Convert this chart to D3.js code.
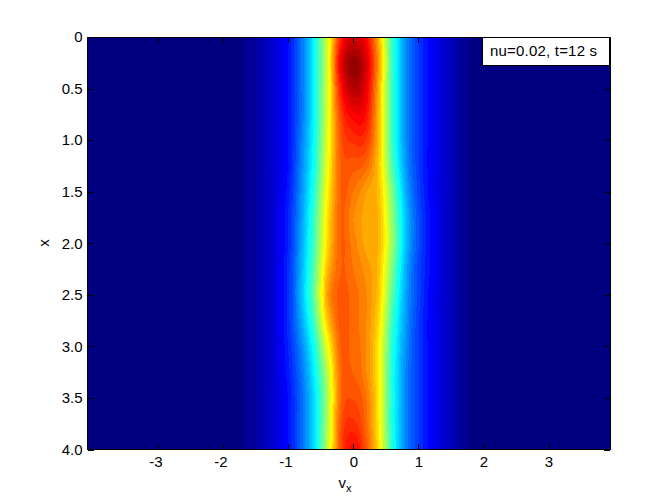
<!DOCTYPE html>
<html><head><meta charset="utf-8">
<script src="https://cdn.jsdelivr.net/npm/d3@7"></script>
<style>html,body{margin:0;padding:0;background:#fff}svg{display:block}
text{font-family:"Liberation Sans",Arial,sans-serif;fill:#000}</style></head>
<body><svg id="c" width="672" height="504"></svg>
<script>
const vGrid = [-2,-1.8,-1.6,-1.4,-1.2,-1,-.8,-.6,-.4,-.2,0,.2,.4,.6,.8,1,1.2,1.4,1.6,1.8,2];
const xGrid = [0,.25,.5,.75,1,1.25,1.5,1.75,2,2.25,2.5,2.75,3,3.25,3.5,3.75,4];
const density = [
[.005,.012,.03,.06,.10,.15,.25,.39,.60,.85,.93,.88,.70,.44,.28,.19,.13,.09,.05,.02,.005],
[.005,.012,.03,.06,.10,.15,.25,.39,.60,.90,.99,.92,.72,.44,.28,.19,.13,.09,.05,.02,.005],
[.005,.012,.03,.06,.10,.15,.25,.39,.60,.86,.96,.90,.70,.44,.28,.19,.13,.09,.05,.02,.005],
[.005,.012,.03,.06,.10,.15,.25,.39,.60,.82,.89,.87,.69,.44,.28,.19,.13,.09,.05,.02,.005],
[.005,.012,.03,.06,.10,.15,.26,.40,.61,.80,.84,.83,.69,.44,.28,.19,.13,.09,.05,.02,.005],
[.005,.012,.03,.06,.10,.15,.27,.41,.62,.79,.80,.78,.68,.46,.29,.19,.13,.09,.05,.02,.005],
[.005,.012,.03,.06,.10,.16,.28,.43,.64,.79,.77,.73,.69,.50,.31,.20,.13,.09,.05,.02,.005],
[.005,.012,.03,.06,.10,.17,.29,.45,.66,.79,.75,.72,.70,.52,.33,.21,.14,.09,.05,.02,.005],
[.005,.012,.03,.06,.10,.17,.30,.46,.67,.79,.76,.72,.70,.53,.33,.21,.14,.09,.05,.02,.005],
[.005,.012,.03,.06,.10,.18,.31,.48,.70,.79,.77,.74,.69,.50,.31,.20,.14,.09,.05,.02,.005],
[.005,.012,.03,.06,.10,.18,.32,.49,.73,.80,.78,.75,.68,.47,.30,.20,.13,.09,.05,.02,.005],
[.005,.012,.03,.06,.10,.18,.30,.46,.69,.80,.78,.75,.66,.44,.29,.19,.13,.09,.05,.02,.005],
[.005,.012,.03,.06,.10,.17,.27,.41,.62,.79,.78,.75,.64,.42,.28,.19,.13,.09,.05,.02,.005],
[.005,.012,.03,.06,.10,.16,.25,.38,.57,.78,.79,.75,.64,.41,.27,.19,.13,.09,.05,.02,.005],
[.005,.012,.03,.06,.10,.15,.24,.36,.55,.78,.81,.77,.64,.41,.27,.19,.13,.09,.05,.02,.005],
[.005,.012,.03,.06,.10,.15,.24,.36,.56,.80,.84,.78,.64,.41,.27,.19,.13,.09,.05,.02,.005],
[.005,.012,.03,.06,.10,.15,.24,.36,.57,.81,.88,.80,.65,.42,.27,.19,.13,.09,.05,.02,.005]
];
const xTicks = [-3,-2,-1,0,1,2,3];
const yTicks = [0,.5,1,1.5,2,2.5,3,3.5,4];
const xLabelMain = "v", xLabelSub = "x", yLabel = "x", note = "nu=0.02, t=12 s";
const levels = 48;

const svg = d3.select("#c");
const L=87.5,R=610,T=37,B=449.5;
const sx = d3.scaleLinear().domain([-4.092,3.946]).range([L,R]);
const sy = d3.scaleLinear().domain([0,4]).range([T,B]);

const jet = d3.scaleLinear()
  .domain([0,.125,.375,.625,.875,1])
  .range(["#000080","#0000ff","#00ffff","#ffff00","#ff0000","#800000"])
  .clamp(true);

function cr(a,b,c,d,t){return .5*((2*b)+(-a+c)*t+(2*a-5*b+4*c-d)*t*t+(-a+3*b-3*c+d)*t*t*t);}
const idx=(arr,v)=>{const s=(arr[arr.length-1]-arr[0])/(arr.length-1);const p=(v-arr[0])/s;
  const i=Math.max(0,Math.min(arr.length-2,Math.floor(p)));return [i,p-i];};
function sample(x,v){
  if(v<=vGrid[0]||v>=vGrid[vGrid.length-1])return 0;
  const [j,tj]=idx(xGrid,x),[i,ti]=idx(vGrid,v);
  const row=r=>{const m=density[Math.max(0,Math.min(density.length-1,r))];
    const g=k=>m[Math.max(0,Math.min(m.length-1,k))];
    return cr(g(i-1),g(i),g(i+1),g(i+2),ti);};
  return cr(row(j-1),row(j),row(j+1),row(j+2),tj);
}
const W=Math.round(R-L),H=Math.round(B-T);
const vals=new Float64Array(W*H);
for(let r=0;r<H;r++)for(let c=0;c<W;c++)
  vals[r*W+c]=Math.max(0,sample(sy.invert(T+r+.5),sx.invert(L+c+.5)));
const th=d3.range(levels).map(k=>k/levels);
const contours=d3.contours().size([W,H]).smooth(true).thresholds(th)(Array.from(vals));
const gMap=svg.append("g").attr("transform",`translate(${L},${T})`);
gMap.append("rect").attr("width",R-L).attr("height",B-T).attr("fill",jet(0));
gMap.selectAll("path").data(contours).join("path")
  .attr("d",d3.geoPath()).attr("fill",d=>jet(d.value))
  .attr("shape-rendering","crispEdges");

const FS=15;
function styleAxis(g){g.select(".domain").remove();
  g.selectAll("line").attr("stroke","#000").attr("stroke-width",1).attr("shape-rendering","crispEdges");
  g.selectAll("text").attr("font-size",FS).attr("font-family","Liberation Sans");}
const yFmt=d3.format(".1f"), y0=v=>v===0?"0":yFmt(v);
const xFmt=v=>String(v);
svg.append("g").attr("transform",`translate(0,${B})`)
  .call(d3.axisBottom(sx).tickValues(xTicks).tickFormat(xFmt).tickSize(-6).tickPadding(7)).call(styleAxis)
  .selectAll("text").attr("dx",d=>d<0?-3:0);
svg.append("g").attr("transform",`translate(0,${T})`)
  .call(d3.axisTop(sx).tickValues(xTicks).tickFormat("").tickSize(-6)).call(styleAxis);
svg.append("g").attr("transform",`translate(${L},0)`)
  .call(d3.axisLeft(sy).tickValues(yTicks).tickFormat(y0).tickSize(-6).tickPadding(5)).call(styleAxis);
svg.append("g").attr("transform",`translate(${R},0)`)
  .call(d3.axisRight(sy).tickValues(yTicks).tickFormat("").tickSize(-6)).call(styleAxis);
svg.append("rect").attr("x",L).attr("y",T).attr("width",R-L).attr("height",B-T)
  .attr("fill","none").attr("stroke","#000").attr("shape-rendering","crispEdges");

const xl=svg.append("text").attr("x",345).attr("y",488).attr("text-anchor","middle").attr("font-size",FS);
xl.append("tspan").text(xLabelMain);
xl.append("tspan").attr("dy",4).attr("font-size",11).text(xLabelSub);
svg.append("text").attr("transform","translate(49,243) rotate(-90)").attr("text-anchor","middle").attr("font-size",FS).text(yLabel);

svg.append("rect").attr("x",482.5).attr("y",37.5).attr("width",127).attr("height",27.5)
  .attr("fill","#fff").attr("stroke","#000").attr("shape-rendering","crispEdges");
svg.append("text").attr("x",490).attr("y",56).attr("font-size",FS).attr("letter-spacing",.2).text(note);
</script></body></html>
